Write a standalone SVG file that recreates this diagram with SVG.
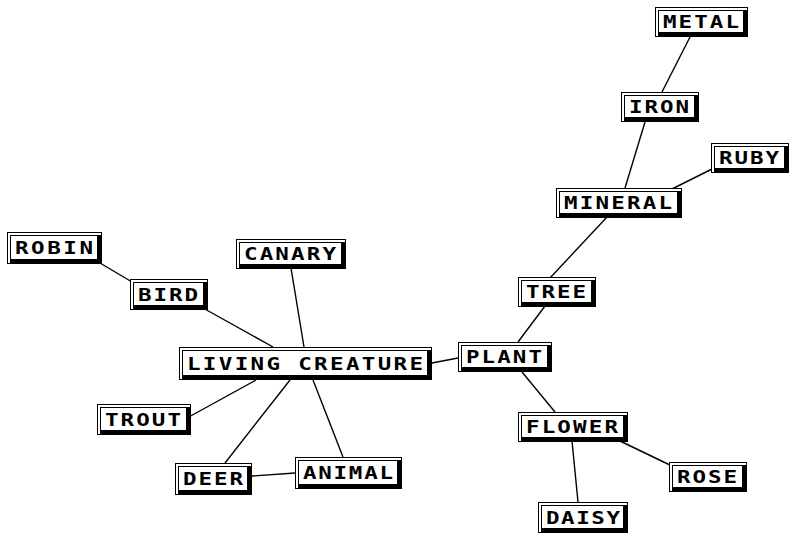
<svg xmlns="http://www.w3.org/2000/svg" width="790" height="534" viewBox="0 0 790 534">
<style>
.o{fill:#000}
.w{fill:#fff}
.t{font-family:"DejaVu Sans Mono","Liberation Mono",monospace;font-weight:bold;font-size:18px;fill:#000}
.c line{stroke:#000;stroke-width:1.4}
</style>
<rect width="790" height="534" fill="#fff"/>
<g class="c" id="connectors">
<line x1="690" y1="37" x2="662" y2="92"/>
<line x1="645" y1="122" x2="625" y2="188"/>
<line x1="716" y1="167" x2="672" y2="189"/>
<line x1="607" y1="217" x2="550" y2="278"/>
<line x1="545" y1="306" x2="518" y2="342"/>
<line x1="522" y1="372" x2="555" y2="412"/>
<line x1="432" y1="363" x2="458" y2="358"/>
<line x1="572" y1="441" x2="578" y2="502"/>
<line x1="620" y1="441" x2="672" y2="466"/>
<line x1="100" y1="263" x2="132" y2="282"/>
<line x1="203" y1="308" x2="273" y2="347"/>
<line x1="291" y1="268" x2="304" y2="347"/>
<line x1="187" y1="418" x2="256" y2="380"/>
<line x1="225" y1="463" x2="290" y2="380"/>
<line x1="343" y1="457" x2="313" y2="380"/>
<line x1="252" y1="476" x2="295" y2="473"/>
</g>
<g id="metal"><rect class="o" x="655" y="7" width="93" height="30"/><rect class="w" x="656" y="8" width="91" height="28"/><rect class="o" x="658" y="10" width="90" height="27"/><rect class="w" x="659" y="11" width="84" height="21"/><text class="t" transform="translate(663,28) scale(1.25,1)" textLength="60.8" lengthAdjust="spacing">METAL</text></g>
<g id="iron"><rect class="o" x="621" y="92" width="78" height="30"/><rect class="w" x="622" y="93" width="76" height="28"/><rect class="o" x="624" y="95" width="75" height="27"/><rect class="w" x="625" y="96" width="69" height="21"/><text class="t" transform="translate(629,113) scale(1.25,1)" textLength="48" lengthAdjust="spacing">IRON</text></g>
<g id="ruby"><rect class="o" x="711" y="143" width="78" height="30"/><rect class="w" x="712" y="144" width="76" height="28"/><rect class="o" x="714" y="146" width="75" height="27"/><rect class="w" x="715" y="147" width="69" height="21"/><text class="t" transform="translate(719,164) scale(1.25,1)" textLength="48" lengthAdjust="spacing">RUBY</text></g>
<g id="mineral"><rect class="o" x="556" y="188" width="126" height="30"/><rect class="w" x="557" y="189" width="124" height="28"/><rect class="o" x="559" y="191" width="123" height="27"/><rect class="w" x="560" y="192" width="117" height="21"/><text class="t" transform="translate(564,209) scale(1.25,1)" textLength="86.4" lengthAdjust="spacing">MINERAL</text></g>
<g id="robin"><rect class="o" x="7" y="232" width="95" height="32"/><rect class="w" x="8" y="233" width="93" height="30"/><rect class="o" x="10" y="235" width="92" height="29"/><rect class="w" x="11" y="236" width="86" height="23"/><text class="t" transform="translate(15,254) scale(1.25,1)" textLength="62.4" lengthAdjust="spacing">ROBIN</text></g>
<g id="canary"><rect class="o" x="236" y="239" width="110" height="30"/><rect class="w" x="237" y="240" width="108" height="28"/><rect class="o" x="239" y="242" width="107" height="27"/><rect class="w" x="240" y="243" width="101" height="21"/><text class="t" transform="translate(244,260) scale(1.25,1)" textLength="73.6" lengthAdjust="spacing">CANARY</text></g>
<g id="bird"><rect class="o" x="130" y="279" width="78" height="31"/><rect class="w" x="131" y="280" width="76" height="29"/><rect class="o" x="133" y="282" width="75" height="28"/><rect class="w" x="134" y="283" width="69" height="22"/><text class="t" transform="translate(138,301) scale(1.25,1)" textLength="48" lengthAdjust="spacing">BIRD</text></g>
<g id="tree"><rect class="o" x="518" y="277" width="78" height="30"/><rect class="w" x="519" y="278" width="76" height="28"/><rect class="o" x="521" y="280" width="75" height="27"/><rect class="w" x="522" y="281" width="69" height="21"/><text class="t" transform="translate(526,298) scale(1.25,1)" textLength="48" lengthAdjust="spacing">TREE</text></g>
<g id="living-creature"><rect class="o" x="179" y="347" width="253" height="33"/><rect class="w" x="180" y="348" width="251" height="31"/><rect class="o" x="182" y="350" width="250" height="30"/><rect class="w" x="183" y="351" width="244" height="24"/><text class="t" transform="translate(187,370) scale(1.25,1)" textLength="188.8" lengthAdjust="spacing">LIVING CREATURE</text></g>
<g id="plant"><rect class="o" x="458" y="342" width="94" height="30"/><rect class="w" x="459" y="343" width="92" height="28"/><rect class="o" x="461" y="345" width="91" height="27"/><rect class="w" x="462" y="346" width="85" height="21"/><text class="t" transform="translate(466,363) scale(1.25,1)" textLength="60.8" lengthAdjust="spacing">PLANT</text></g>
<g id="trout"><rect class="o" x="97" y="404" width="94" height="31"/><rect class="w" x="98" y="405" width="92" height="29"/><rect class="o" x="100" y="407" width="91" height="28"/><rect class="w" x="101" y="408" width="85" height="22"/><text class="t" transform="translate(105,426) scale(1.25,1)" textLength="60.8" lengthAdjust="spacing">TROUT</text></g>
<g id="flower"><rect class="o" x="518" y="412" width="110" height="30"/><rect class="w" x="519" y="413" width="108" height="28"/><rect class="o" x="521" y="415" width="107" height="27"/><rect class="w" x="522" y="416" width="101" height="21"/><text class="t" transform="translate(526,433) scale(1.25,1)" textLength="73.6" lengthAdjust="spacing">FLOWER</text></g>
<g id="deer"><rect class="o" x="175" y="463" width="77" height="32"/><rect class="w" x="176" y="464" width="75" height="30"/><rect class="o" x="178" y="466" width="74" height="29"/><rect class="w" x="179" y="467" width="68" height="23"/><text class="t" transform="translate(183,485) scale(1.25,1)" textLength="48" lengthAdjust="spacing">DEER</text></g>
<g id="animal"><rect class="o" x="295" y="457" width="107" height="32"/><rect class="w" x="296" y="458" width="105" height="30"/><rect class="o" x="298" y="460" width="104" height="29"/><rect class="w" x="299" y="461" width="98" height="23"/><text class="t" transform="translate(303,479) scale(1.25,1)" textLength="72" lengthAdjust="spacing">ANIMAL</text></g>
<g id="rose"><rect class="o" x="669" y="462" width="78" height="30"/><rect class="w" x="670" y="463" width="76" height="28"/><rect class="o" x="672" y="465" width="75" height="27"/><rect class="w" x="673" y="466" width="69" height="21"/><text class="t" transform="translate(677,483) scale(1.25,1)" textLength="48" lengthAdjust="spacing">ROSE</text></g>
<g id="daisy"><rect class="o" x="538" y="502" width="90" height="31"/><rect class="w" x="539" y="503" width="88" height="29"/><rect class="o" x="541" y="505" width="87" height="28"/><rect class="w" x="542" y="506" width="81" height="22"/><text class="t" transform="translate(546,524) scale(1.25,1)" textLength="59.2" lengthAdjust="spacing">DAISY</text></g>
</svg>
